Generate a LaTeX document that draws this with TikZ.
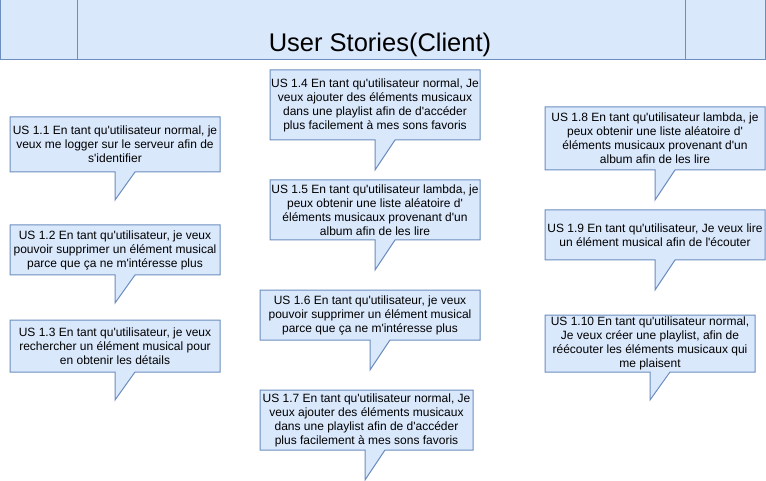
\documentclass[tikz,border=0pt]{standalone}
\usepackage{fontspec}
\setmainfont{Liberation Sans}[Ligatures=TeXOff]
\definecolor{boxfill}{HTML}{DAE8FC}
\definecolor{boxline}{HTML}{6C8EBF}
\tikzset{
  bubble/.style={draw=boxline, fill=boxfill, line width=1pt, line join=miter},
  storytext/.style={align=center, inner sep=0pt, font=\fontsize{12}{14}\selectfont},
}
% callout: name, box corners, pointer x, tip y, text
\newcommand{\userstory}[8]{%
  \draw[bubble] (#2,#3) -- (#4,#3) -- (#4,#5) -- (#6+20,#5) -- (#6,#7) -- (#6,#5) -- (#2,#5) -- cycle;
  \node[storytext] (#1) at ({(#2+#4)/2},{(#3+#5)/2}) {#8};
}
\begin{document}
\begin{tikzpicture}[x=1pt, y=-1pt, line join=round]
  \useasboundingbox (0,0) rectangle (766,481);
  % header
  \draw[bubble] (0,0) rectangle (765,60);
  \draw[boxline, line width=1pt] (77,0) -- (77,60) (685,0) -- (685,60);
  \node[font=\fontsize{25.5}{28}\selectfont] (title) at (380,45) {User Stories(Client)};
  % left column
  \userstory{us11}{10}{117}{220}{172}{115}{200}{US 1.1 En tant qu'utilisateur normal, je\\ veux me logger sur le serveur afin de\\ s'identifier}
  \userstory{us12}{10}{225}{220}{275}{115}{303}{US 1.2 En tant qu'utilisateur, je veux\\ pouvoir supprimer un élément musical\\ parce que ça ne m'intéresse plus}
  \userstory{us13}{10}{320}{220}{372}{115}{400}{US 1.3 En tant qu'utilisateur, je veux\\ rechercher un élément musical pour\\ en obtenir les détails}
  % middle column
  \userstory{us14}{270}{70}{480}{140}{375}{170}{US 1.4 En tant qu'utilisateur normal, Je\\ veux ajouter des éléments musicaux\\ dans une playlist afin de d'accéder\\ plus facilement à mes sons favoris}
  \userstory{us15}{270}{180}{480}{240}{375}{270}{US 1.5 En tant qu'utilisateur lambda, je\\ peux obtenir une liste aléatoire d'\\ éléments musicaux provenant d'un\\ album afin de les lire}
  \userstory{us16}{260}{290}{480}{340}{370}{370}{US 1.6 En tant qu'utilisateur, je veux\\ pouvoir supprimer un élément musical\\ parce que ça ne m'intéresse plus}
  \userstory{us17}{260}{390}{473}{450}{365}{480}{US 1.7 En tant qu'utilisateur normal, Je\\ veux ajouter des éléments musicaux\\ dans une playlist afin de d'accéder\\ plus facilement à mes sons favoris}
  % right column
  \userstory{us18}{545}{107}{765}{170}{655}{200}{US 1.8 En tant qu'utilisateur lambda, je\\ peux obtenir une liste aléatoire d'\\ éléments musicaux provenant d'un\\ album afin de les lire}
  \userstory{us19}{545}{210}{765}{260}{655}{290}{US 1.9 En tant qu'utilisateur, Je veux lire\\ un élément musical afin de l'écouter}
  \userstory{us110}{545}{315}{755}{372}{650}{400}{US 1.10 En tant qu'utilisateur normal,\\ Je veux créer une playlist, afin de\\ réécouter les éléments musicaux qui\\ me plaisent}
\end{tikzpicture}
\end{document}
